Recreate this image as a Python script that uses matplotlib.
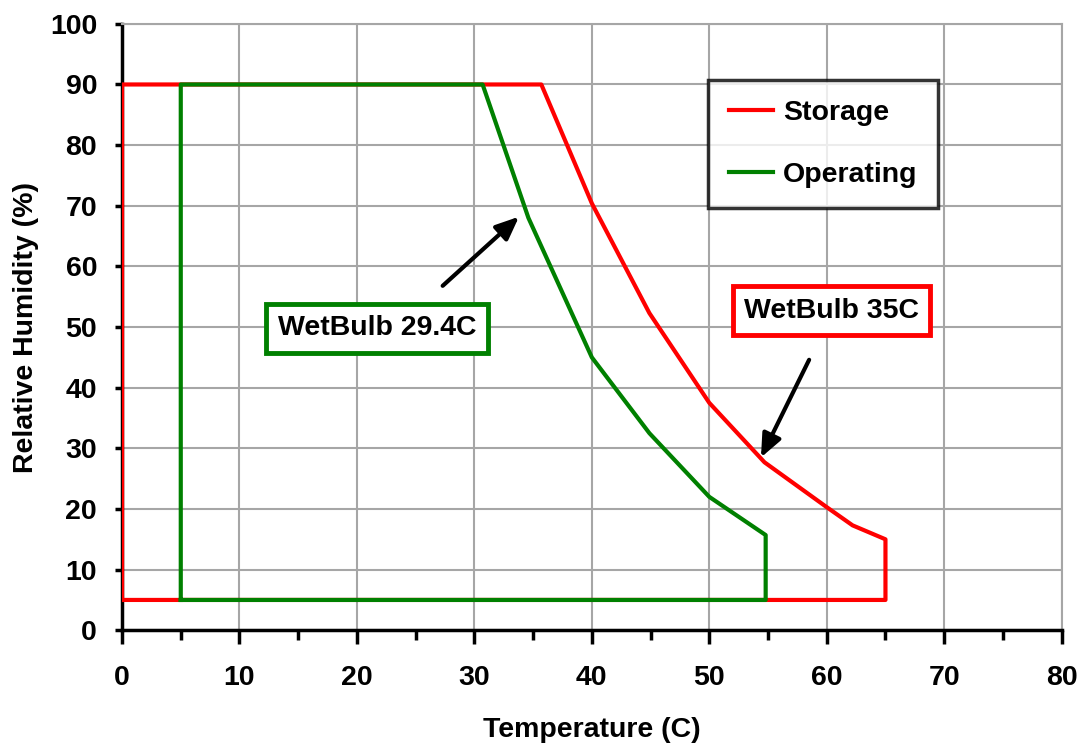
import matplotlib
matplotlib.use("Agg")
import matplotlib.pyplot as plt
from matplotlib.ticker import MultipleLocator

plt.rcParams['font.family'] = ['Liberation Sans', 'DejaVu Sans']
plt.rcParams['font.weight'] = 'bold'

# Storage envelope
storage_t = [0, 0, 35.7, 40, 44.9, 50, 54.7, 60, 62.2, 65, 65, 0]
storage_rh = [5, 90, 90, 70.4, 52.3, 37.5, 27.7, 20.3, 17.3, 15, 5, 5]

# Operating envelope
operating_t = [5, 5, 30.7, 34.6, 40, 44.9, 50, 54.8, 54.8, 5]
operating_rh = [5, 90, 90, 68, 45, 32.5, 22, 15.7, 5, 5]

x_ticks = [0, 10, 20, 30, 40, 50, 60, 70, 80]
y_ticks = [0, 10, 20, 30, 40, 50, 60, 70, 80, 90, 100]

FS = 20.5

fig = plt.figure(figsize=(10.8, 7.45), dpi=100)
ax = fig.add_axes([0.113, 0.154, 0.870, 0.814])

ax.plot(storage_t, storage_rh, color='#FF0000', lw=3, label='Storage', zorder=3)
ax.plot(operating_t, operating_rh, color='#008000', lw=3, label='Operating', zorder=4)

ax.set_xlim(0, 80)
ax.set_ylim(0, 100)
ax.set_xticks(x_ticks)
ax.set_yticks(y_ticks)
ax.xaxis.set_minor_locator(MultipleLocator(5))
ax.grid(True, which='major', color='#A6A6A6', lw=1.5, zorder=0)
ax.set_axisbelow(True)

for s in ['top', 'right']:
    ax.spines[s].set_color('#A6A6A6')
    ax.spines[s].set_linewidth(1.5)
for s in ['left', 'bottom']:
    ax.spines[s].set_color('black')
    ax.spines[s].set_linewidth(2.5)

ax.tick_params(axis='x', which='major', direction='out', length=10, width=2.5, labelsize=FS, pad=15)
ax.tick_params(axis='x', which='minor', direction='out', length=7, width=2.5)
ax.tick_params(axis='y', which='major', direction='out', length=5, width=2.5, labelsize=FS, pad=13)
for lab in ax.get_xticklabels() + ax.get_yticklabels():
    lab.set_fontweight('bold')

ax.set_xlabel('Temperature (C)', fontsize=FS, fontweight='bold', labelpad=19)
ax.set_ylabel('Relative Humidity (%)', fontsize=FS, fontweight='bold', labelpad=8)

leg = ax.legend(loc='upper left', bbox_to_anchor=(0.624, 0.908), fontsize=FS,
                frameon=True, fancybox=False, edgecolor='black', handlelength=1.55,
                borderpad=0.72, labelspacing=1.25, handletextpad=0.35, borderaxespad=0)
leg.get_frame().set_linewidth(2.5)
for t in leg.get_texts():
    t.set_fontweight('bold')

arrow_style = '-|>,head_length=1.4,head_width=0.6'
ax.annotate('', xy=(33.8, 68.2), xytext=(27.3, 56.8),
            arrowprops=dict(arrowstyle=arrow_style, color='black', lw=3, shrinkA=0, shrinkB=0), zorder=6)
ax.annotate('', xy=(54.4, 28.5), xytext=(58.5, 44.6),
            arrowprops=dict(arrowstyle=arrow_style, color='black', lw=3, shrinkA=0, shrinkB=0), zorder=6)

ax.text(21.7, 49.8, 'WetBulb 29.4C', fontsize=FS, fontweight='bold', ha='center', va='center',
        bbox=dict(boxstyle='square,pad=0.4', fc='white', ec='#008000', lw=3.5), zorder=7)
ax.text(60.4, 52.7, 'WetBulb 35C', fontsize=FS, fontweight='bold', ha='center', va='center',
        bbox=dict(boxstyle='square,pad=0.4', fc='white', ec='#FF0000', lw=3.5), zorder=7)

fig.savefig('out.png', dpi=100, facecolor='white')
